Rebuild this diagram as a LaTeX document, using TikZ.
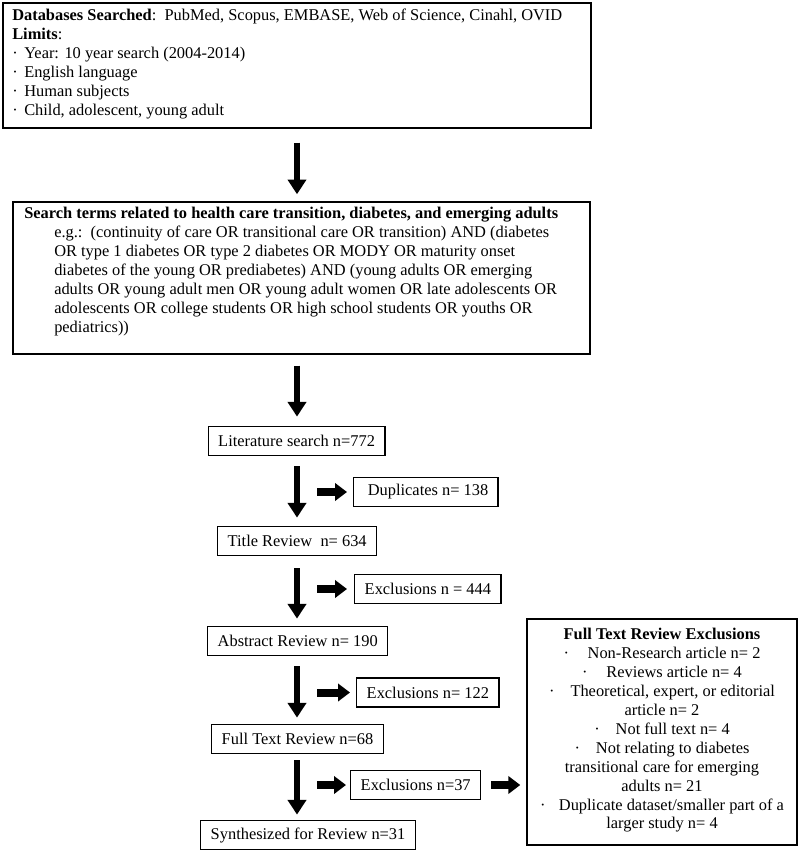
\documentclass[tikz,border=0pt]{standalone}
\usepackage{fontspec}
\setmainfont{Liberation Serif}
\usetikzlibrary{arrows.meta}
\begin{document}
\begin{tikzpicture}[x=0.75pt,y=-0.75pt,
 frame/.style={draw, line width=1.1pt, inner sep=0pt},
 sbox/.style={draw, line width=1.1pt, inner xsep=7.5pt, inner ysep=0pt, minimum height=22pt, anchor=west, font=\fontsize{12.3}{14.2}\selectfont},
 txt/.style={inner sep=0pt, align=left, font=\fontsize{12.3}{14.2}\selectfont},
 varrow/.style={line width=4.9pt, -{Triangle[width=13.5pt,length=11pt]}},
 harrow/.style={line width=6pt, -{Triangle[width=13pt,length=9pt]}},
]
\useasboundingbox (0,0) rectangle (800,852);
\coordinate (ax) at (297,0);
\coordinate (sx) at (317,0);

% top box
\node[frame, minimum width=441pt, minimum height=93.75pt] (top) at (297,65.5) {};
\node[txt, anchor=north west] (toptext) at (12,9) {%
\textbf{Databases Searched}:\ \ PubMed, Scopus, EMBASE, Web of Science, Cinahl, OVID\\
\textbf{Limits}:\\
\makebox[9pt][l]{·}Year: 10 year search (2004-2014)\\
\makebox[9pt][l]{·}English language\\
\makebox[9pt][l]{·}Human subjects\\
\makebox[9pt][l]{·}Child, adolescent, young adult};

% search box
\node[frame, minimum width=432.75pt, minimum height=114pt] (search) at (301.5,278) {};
\node[txt, anchor=north west] (searchtext) at (24,207) {%
\textbf{Search terms related to health care transition, diabetes, and emerging adults}\\
\hspace*{22.5pt}e.g.:\ \ (continuity of care OR transitional care OR transition) AND (diabetes\\
\hspace*{22.5pt}OR type 1 diabetes OR type 2 diabetes OR MODY OR maturity onset\\
\hspace*{22.5pt}diabetes of the young OR prediabetes) AND (young adults OR emerging\\
\hspace*{22.5pt}adults OR young adult men OR young adult women OR late adolescents OR\\
\hspace*{22.5pt}adolescents OR college students OR high school students OR youths OR\\
\hspace*{22.5pt}pediatrics))};

% flow boxes
\node[sbox] (lit) at (207.5,441) {Literature search n=772};
\node[sbox] (dup) at (353,492) {\ Duplicates n= 138};
\node[sbox] (title) at (217,541) {Title Review\ \ n= 634};
\node[sbox] (ex444) at (354,589) {Exclusions n = 444};
\node[sbox] (abs) at (207,641) {Abstract Review n= 190};
\node[sbox] (ex122) at (356,692.5) {Exclusions n= 122};
\node[sbox] (full) at (211,739) {Full Text Review n=68};
\node[sbox] (ex37) at (350,785) {Exclusions n=37};
\node[sbox] (syn) at (200,835) {Synthesized for Review n=31};

% right box
\node[frame, minimum width=202.5pt, minimum height=169.5pt] (right) at (662,732) {};
\node[txt, anchor=north, align=center] (righttext) at (662,628) {%
\textbf{Full Text Review Exclusions}\\
·\hspace{14pt}Non-Research article n= 2\\
·\hspace{14pt}Reviews article n= 4\\
·\hspace{12pt}Theoretical, expert, or editorial\\
article n= 2\\
·\hspace{12pt}Not full text n= 4\\
·\hspace{12pt}Not relating to diabetes\\
transitional care for emerging\\
adults n= 21\\
·\hspace{10pt}Duplicate dataset/smaller part of a\\
larger study n= 4};

% vertical arrows
\draw[varrow, shorten <=10.5pt, shorten >=5.25pt] (top.south -| ax) -- (search.north -| ax);
\draw[varrow, shorten <=8.25pt, shorten >=6.75pt] (search.south -| ax) -- (lit.north -| ax);
\draw[varrow, shorten <=7.5pt, shorten >=6pt] (lit.south -| ax) -- (title.north -| ax);
\draw[varrow, shorten <=9pt, shorten >=5.25pt] (title.south -| ax) -- (abs.north -| ax);
\draw[varrow, shorten <=7.5pt, shorten >=4.5pt] (abs.south -| ax) -- (full.north -| ax);
\draw[varrow, shorten <=4.5pt, shorten >=3.75pt] (full.south -| ax) -- (syn.north -| ax);

% side arrows
\draw[harrow, shorten >=4.5pt] (dup.west -| sx) -- (dup.west);
\draw[harrow, shorten >=5.25pt] (ex444.west -| sx) -- (ex444.west);
\draw[harrow, shorten >=4.5pt] (ex122.west -| sx) -- (ex122.west);
\draw[harrow, shorten >=3pt] (ex37.west -| sx) -- (ex37.west);
\draw[harrow, shorten <=7.5pt, shorten >=4.5pt] (ex37.east) -- (ex37.east -| right.west);
\end{tikzpicture}
\end{document}
